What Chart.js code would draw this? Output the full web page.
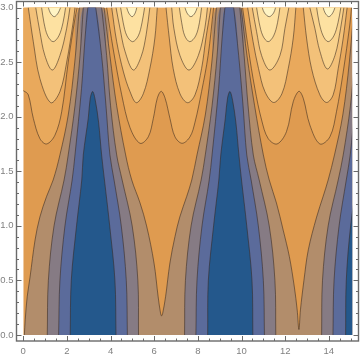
<!DOCTYPE html>
<html>
<head>
<meta charset="utf-8">
<style>
  html, body { margin: 0; padding: 0; background: #fff; }
  canvas { display: block; }
</style>
<script src="https://cdn.jsdelivr.net/npm/chart.js@4/dist/chart.umd.min.js"></script>
</head>
<body>
<canvas id="contour" width="360" height="359"></canvas>
<script>
const xMajorTicks = [0, 2, 4, 6, 8, 10, 12, 14];
const xMinorTicks = [0.5, 1, 1.5, 2.5, 3, 3.5, 4.5, 5, 5.5, 6.5, 7, 7.5, 8.5, 9, 9.5, 10.5, 11, 11.5, 12.5, 13, 13.5, 14.5, 15];
const yMajorTicks = [0, 0.5, 1, 1.5, 2, 2.5, 3];
const yMinorTicks = [0.1, 0.2, 0.3, 0.4, 0.6, 0.7, 0.8, 0.9, 1.1, 1.2, 1.3, 1.4, 1.6, 1.7, 1.8, 1.9, 2.1, 2.2, 2.3, 2.4, 2.6, 2.7, 2.8, 2.9];

// data window of the plot
const xEnd = 15.07;
const yEnd = 3;
const plotRect = [[0, 0], [15.07, 0], [15.07, 3], [0, 3]];

// contours, each region is a list of [x, y] branches
const belowD = [[
  [[0.05, 0], [0.09, 0.14], [0.18, 0.35], [0.31, 0.53], [0.54, 0.87], [0.76, 1.08], [1.07, 1.27], [1.37, 1.42], [1.68, 1.65], [2.06, 2.015], [2.36, 2.5], [2.57, 3]],
  [[3.7, 3], [3.97, 2.56], [4.28, 2.1], [4.69, 1.65], [4.97, 1.42], [5.35, 1.21], [5.65, 1], [5.99, 0.66], [6.18, 0.35], [6.29, 0.2], [6.34, 0.175], [6.39, 0.2], [6.52, 0.35], [6.72, 0.66], [6.95, 0.9], [7.17, 1.08], [7.49, 1.27], [7.72, 1.42], [7.96, 1.65], [8.34, 2.015], [8.64, 2.5], [8.85, 3]],
  [[9.98, 3], [10.25, 2.56], [10.6, 2.1], [11, 1.65], [11.27, 1.42], [11.6, 1.21], [11.91, 0.96], [12.19, 0.72], [12.42, 0.44], [12.55, 0.23], [12.63, 0.05], [12.7, 0.23], [12.86, 0.5], [13.06, 0.78], [13.44, 1.08], [13.74, 1.27], [13.97, 1.42], [14.26, 1.65], [14.64, 2.015], [14.94, 2.5], [15.15, 3]],
  [[15.3, 0]]
]];
const belowC = [
  [[[1.1, 0], [1.15, 0.5], [1.41, 1], [1.87, 1.42], [2.06, 1.65], [2.37, 2.1], [2.6, 2.56], [2.75, 3]],
   [[3.59, 3], [3.82, 2.56], [4, 2.1], [4.28, 1.65], [4.53, 1.42], [4.99, 1], [5.25, 0.5], [5.28, 0]]],
  [[[7.39, 0], [7.43, 0.5], [7.69, 1], [8.15, 1.42], [8.34, 1.65], [8.65, 2.1], [8.88, 2.56], [9.03, 3]],
   [[9.92, 3], [10.12, 2.56], [10.3, 2.1], [10.54, 1.65], [10.81, 1.42], [11.27, 1], [11.53, 0.5], [11.57, 0]]],
  [[[13.67, 0], [13.71, 0.5], [13.97, 1], [14.43, 1.42], [14.66, 1.65], [14.99, 2.1], [15.2, 2.56]],
   [[15.3, 0]]]
];
const belowB = [
  [[[1.62, 0], [1.68, 0.5], [1.91, 1], [2.24, 1.42], [2.37, 1.65], [2.67, 2.26], [2.83, 2.72], [2.96, 3]],
   [[3.32, 3], [3.59, 2.56], [3.79, 2.1], [3.97, 1.65], [4.16, 1.42], [4.49, 1], [4.72, 0.5], [4.77, 0]]],
  [[[7.91, 0], [7.96, 0.5], [8.19, 1], [8.52, 1.42], [8.65, 1.65], [8.95, 2.26], [9.11, 2.72], [9.24, 3]],
   [[9.64, 3], [9.87, 2.56], [10.07, 2.1], [10.24, 1.65], [10.44, 1.42], [10.77, 1], [11, 0.5], [11.05, 0]]],
  [[[14.19, 0], [14.24, 0.5], [14.47, 1], [14.8, 1.42], [14.98, 1.65], [15.2, 2.1]],
   [[15.3, 0]]]
];
const belowA = [
  [[[2.15, 0], [2.2, 0.5], [2.44, 1], [2.68, 1.42], [2.75, 1.65], [2.98, 1.99], [3.07, 2.17], [3.18, 2.23], [3.3, 2.15], [3.45, 1.95], [3.59, 1.65], [3.72, 1.42], [3.96, 1], [4.2, 0.5], [4.25, 0]]],
  [[[8.45, 0], [8.48, 0.5], [8.72, 1], [8.96, 1.42], [9.05, 1.65], [9.26, 1.99], [9.36, 2.17], [9.47, 2.23], [9.59, 2.15], [9.74, 1.95], [9.88, 1.65], [10, 1.42], [10.24, 1], [10.48, 0.5], [10.52, 0]]],
  [[[14.77, 0], [14.8, 0.5], [15, 1], [15.3, 1.42]],
   [[15.4, 0]]]
];
const aboveE = [
  [[[-0.1, 2.24], [0.03, 2.235], [0.23, 2.2], [0.46, 1.985], [0.76, 1.8], [1.07, 1.75], [1.45, 1.83], [1.76, 2.045], [2.06, 2.5], [2.37, 2.9], [2.47, 3]],
   [[-0.2, 3]]],
  [[[3.82, 3], [4.12, 2.62], [4.51, 2.2], [4.89, 1.9], [5.35, 1.756], [5.73, 1.816], [5.96, 1.985], [6.14, 2.168], [6.32, 2.232], [6.5, 2.168], [6.72, 1.985], [6.95, 1.816], [7.28, 1.756], [7.64, 1.816], [7.87, 1.95], [8.17, 2.23], [8.47, 2.56], [8.72, 3]]],
  [[[10.05, 3], [10.31, 2.625], [10.61, 2.26], [10.92, 1.97], [11.22, 1.8], [11.63, 1.75], [12.06, 1.863], [12.37, 2.137], [12.63, 2.232], [12.83, 2.168], [13.13, 1.924], [13.59, 1.75], [14.05, 1.816], [14.35, 2.045], [14.66, 2.41], [14.96, 2.84], [15.04, 3]]]
];
const aboveF = [
  [[[0.23, 3], [0.46, 2.687], [0.76, 2.35], [1.26, 2.128], [1.68, 2.23], [1.99, 2.5], [2.29, 2.87], [2.37, 3]]],
  [[[4.05, 3], [4.28, 2.687], [4.59, 2.41], [4.89, 2.23], [5.18, 2.128], [5.5, 2.21], [5.8, 2.44], [6.03, 2.72], [6.14, 3]]],
  [[[6.54, 3], [6.69, 2.72], [6.87, 2.44], [7.18, 2.21], [7.53, 2.128], [7.87, 2.2], [8.17, 2.44], [8.37, 2.72], [8.6, 3]]],
  [[[10.28, 3], [10.53, 2.687], [10.78, 2.44], [11.07, 2.23], [11.47, 2.13], [11.85, 2.21], [12.14, 2.44], [12.37, 2.72], [12.49, 3]]],
  [[[12.83, 3], [12.98, 2.72], [13.21, 2.44], [13.59, 2.2], [13.9, 2.13], [14.2, 2.2], [14.43, 2.44], [14.66, 2.72], [14.84, 3]]]
];
const aboveG = [
  [[[0.57, 3], [0.76, 2.78], [0.99, 2.56], [1.33, 2.427], [1.68, 2.56], [1.99, 2.81], [2.14, 3]]],
  [[[4.25, 3], [4.43, 2.81], [4.66, 2.6], [5.04, 2.427], [5.4, 2.55], [5.63, 2.75], [5.8, 3]]],
  [[[6.8, 3], [6.9, 2.81], [7.18, 2.56], [7.59, 2.427], [8.02, 2.56], [8.32, 2.81], [8.44, 3]]],
  [[[10.49, 3], [10.69, 2.78], [10.92, 2.56], [11.3, 2.427], [11.76, 2.56], [11.99, 2.81], [12.17, 3]]],
  [[[13.13, 3], [13.36, 2.81], [13.59, 2.6], [13.93, 2.437], [14.28, 2.56], [14.54, 2.81], [14.69, 3]]]
];
const aboveH = [
  [[[0.84, 3], [0.95, 2.86], [1.12, 2.74], [1.37, 2.687], [1.63, 2.74], [1.82, 2.86], [1.94, 3]]],
  [[[4.46, 3], [4.58, 2.86], [4.75, 2.74], [5.01, 2.687], [5.27, 2.74], [5.44, 2.86], [5.56, 3]]],
  [[[7.15, 3], [7.26, 2.86], [7.4, 2.74], [7.63, 2.687], [7.9, 2.74], [8.07, 2.86], [8.17, 3]]],
  [[[10.69, 3], [10.81, 2.86], [10.98, 2.74], [11.22, 2.687], [11.47, 2.74], [11.65, 2.86], [11.76, 3]]],
  [[[13.44, 3], [13.56, 2.86], [13.74, 2.74], [13.97, 2.687], [14.23, 2.74], [14.42, 2.86], [14.55, 3]]]
];
const aboveI = [
  [[[1.15, 3], [1.24, 2.95], [1.42, 2.916], [1.6, 2.95], [1.71, 3]]],
  [[[4.74, 3], [4.83, 2.95], [4.99, 2.916], [5.13, 2.95], [5.2, 3]]],
  [[[7.41, 3], [7.5, 2.95], [7.68, 2.916], [7.87, 2.95], [7.97, 3]]],
  [[[10.95, 3], [11.05, 2.95], [11.27, 2.916], [11.47, 2.95], [11.56, 3]]],
  [[[13.74, 3], [13.83, 2.95], [14, 2.916], [14.18, 2.95], [14.28, 3]]]
];

const bands = [
  { regions: belowD, color: "#b28d6b" },
  { regions: belowC, color: "#867b84" },
  { regions: belowB, color: "#5b6b9b" },
  { regions: belowA, color: "#24588c" },
  { regions: aboveE, color: "#e9a95c" },
  { regions: aboveF, color: "#f3c179" },
  { regions: aboveG, color: "#f9d28c" },
  { regions: aboveH, color: "#fde1a1" },
  { regions: aboveI, color: "#fff4c4" }
];
const baseColor = "#df9b50";
const lineColor = "rgba(55,40,30,0.62)";
const frameColor = "#6a6a6a";
const labelColor = "#808080";

function toPoints(pairs) {
  return pairs.map((p) => ({ x: p[0], y: p[1] }));
}
function fillDataset(pairs, color, tension) {
  return {
    data: toPoints(pairs),
    showLine: true,
    fill: "shape",
    backgroundColor: color,
    borderWidth: 0,
    pointRadius: 0,
    tension: tension,
  };
}
function lineDataset(pairs) {
  return {
    data: toPoints(pairs),
    showLine: true,
    fill: false,
    borderColor: lineColor,
    borderWidth: 0.9,
    pointRadius: 0,
    tension: 0.35,
  };
}
function noPadding(scale) {
  scale.paddingTop = 0;
  scale.paddingBottom = 0;
  scale.paddingLeft = 0;
  scale.paddingRight = 0;
}

const fills = [fillDataset(plotRect, baseColor, 0)];
const lines = [];
for (const band of bands) {
  for (const region of band.regions) {
    fills.push(fillDataset(region.flat(), band.color, 0.35));
    for (const branch of region) {
      if (branch.length > 1) {
        lines.push(lineDataset(branch));
      }
    }
  }
}
// chart.js paints the first dataset last
const allDatasets = fills.concat(lines).reverse();

const plotClip = {
  id: "plotClip",
  beforeDatasetsDraw(chart) {
    const { x, y } = chart.scales;
    const { ctx } = chart;
    ctx.save();
    ctx.beginPath();
    ctx.rect(
      x.getPixelForValue(0),
      y.getPixelForValue(yEnd),
      x.getPixelForValue(xEnd) - x.getPixelForValue(0),
      y.getPixelForValue(0) - y.getPixelForValue(yEnd),
    );
    ctx.clip();
  },
  afterDatasetsDraw(chart) {
    chart.ctx.restore();
  },
};

const frameTicks = {
  id: "frameTicks",
  afterDraw(chart) {
    const { ctx, chartArea: area, scales } = chart;
    function xTick(value, len) {
      const px = Math.round(scales.x.getPixelForValue(value)) + 0.5;
      ctx.moveTo(px, area.bottom);
      ctx.lineTo(px, area.bottom - len);
      ctx.moveTo(px, area.top);
      ctx.lineTo(px, area.top + len);
    }
    function yTick(value, len) {
      const py = Math.round(scales.y.getPixelForValue(value)) + 0.5;
      ctx.moveTo(area.left, py);
      ctx.lineTo(area.left + len, py);
      ctx.moveTo(area.right, py);
      ctx.lineTo(area.right - len, py);
    }
    ctx.save();
    ctx.strokeStyle = frameColor;
    ctx.lineWidth = 1;
    ctx.beginPath();
    xMajorTicks.forEach((v) => xTick(v, 5));
    xMinorTicks.forEach((v) => xTick(v, 2.5));
    yMajorTicks.forEach((v) => yTick(v, 5));
    yMinorTicks.forEach((v) => yTick(v, 2.5));
    ctx.stroke();
    ctx.lineWidth = 1.4;
    ctx.strokeRect(area.left, area.top, area.right - area.left, area.bottom - area.top);
    ctx.restore();
  },
};

new Chart(document.getElementById("contour"), {
  type: "scatter",
  data: { datasets: allDatasets },
  options: {
    responsive: false,
    animation: false,
    events: [],
    layout: { padding: { top: 1.5, right: 1.5, left: 0, bottom: 0 } },
    plugins: { legend: { display: false }, tooltip: { enabled: false } },
    scales: {
      x: {
        type: "linear",
        min: -0.31,
        max: 15.36,
        grid: { display: false, drawTicks: false },
        border: { display: false },
        afterBuildTicks(scale) {
          scale.ticks = xMajorTicks.map((v) => ({ value: v }));
        },
        afterFit(scale) {
          scale.height = 18;
          noPadding(scale);
        },
        ticks: {
          autoSkip: false,
          maxRotation: 0,
          padding: 5,
          color: labelColor,
          font: { family: "'Liberation Sans'", size: 9.5 },
          callback: (v) => String(v),
        },
      },
      y: {
        type: "linear",
        min: -0.055,
        max: 3.055,
        grid: { display: false, drawTicks: false },
        border: { display: false },
        afterBuildTicks(scale) {
          scale.ticks = yMajorTicks.map((v) => ({ value: v }));
        },
        afterFit(scale) {
          scale.width = 16.5;
          noPadding(scale);
        },
        ticks: {
          autoSkip: false,
          padding: 3,
          color: labelColor,
          font: { family: "'Liberation Sans'", size: 9.5 },
          callback: (v) => Number(v).toFixed(1),
        },
      },
    },
  },
  plugins: [plotClip, frameTicks],
});
</script>
</body>
</html>
